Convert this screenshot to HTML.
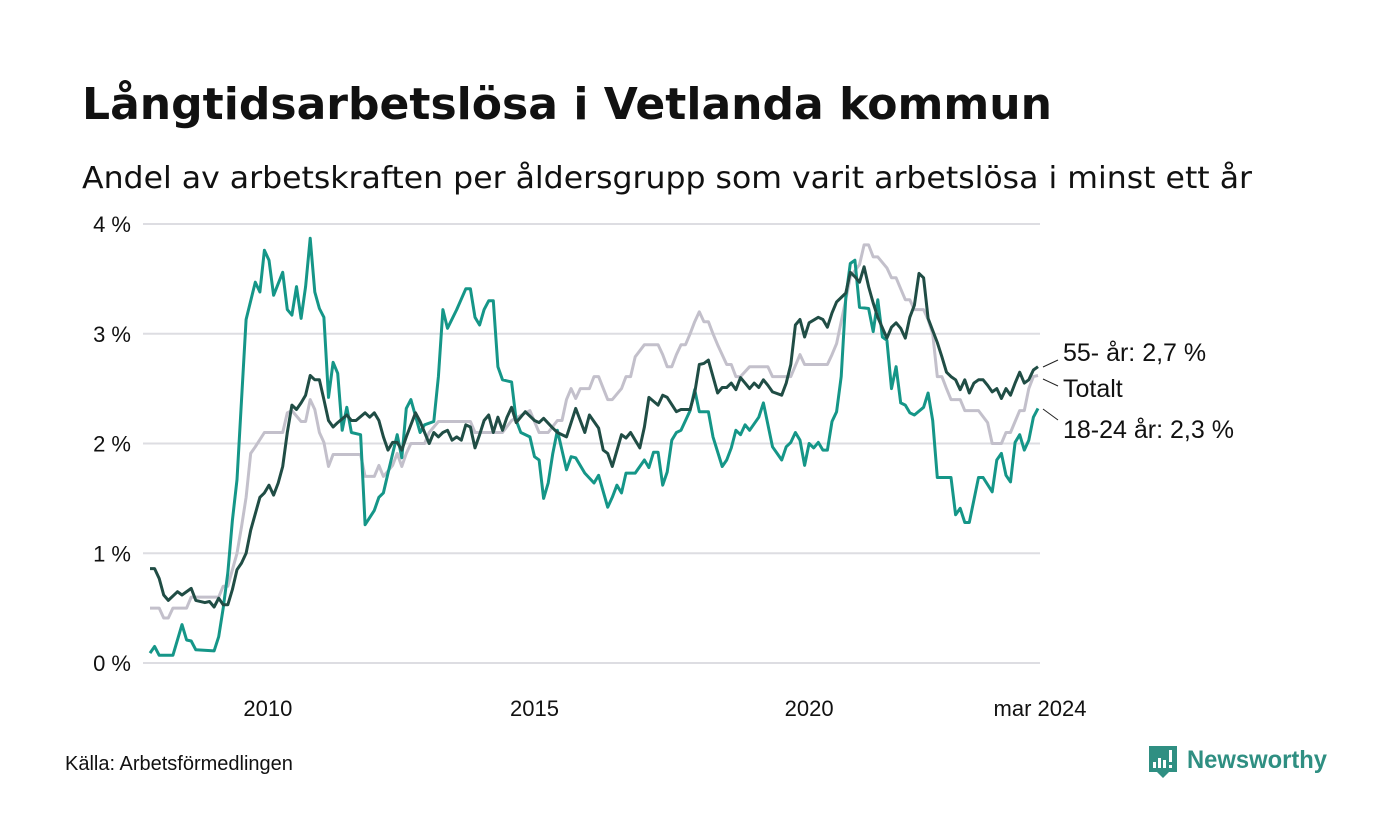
<!DOCTYPE html>
<html><head><meta charset="utf-8">
<style>
html,body{margin:0;padding:0;background:#fff;}
svg{display:block;font-family:"Liberation Sans",sans-serif;}
</style></head>
<body>
<svg id="chart" width="1400" height="840" viewBox="0 0 1400 840" xmlns="http://www.w3.org/2000/svg">
<rect width="1400" height="840" fill="#fff"/>
<text x="82" y="119" font-family="DejaVu Sans, sans-serif" font-size="44" font-weight="bold" fill="#111" textLength="970" lengthAdjust="spacingAndGlyphs">Långtidsarbetslösa i Vetlanda kommun</text>
<text x="82" y="188" font-family="DejaVu Sans, sans-serif" font-size="30" fill="#111" textLength="1170" lengthAdjust="spacingAndGlyphs">Andel av arbetskraften per åldersgrupp som varit arbetslösa i minst ett år</text>
<g id="grid"></g>
<g id="yticks"></g>
<g id="xticks"></g>
<g id="series"></g>
<g font-size="25" fill="#111">
<line x1="1043" y1="367" x2="1058" y2="360" stroke="#222" stroke-width="1"/>
<text x="1063" y="361">55- år: 2,7 %</text>
<line x1="1043" y1="379" x2="1058" y2="386" stroke="#222" stroke-width="1"/>
<text x="1063" y="397">Totalt</text>
<line x1="1043" y1="409" x2="1058" y2="420" stroke="#222" stroke-width="1"/>
<text x="1063" y="438">18-24 år: 2,3 %</text>
</g>
<text x="65" y="770" font-size="20" fill="#111">Källa: Arbetsförmedlingen</text>
<g>
<path d="M1149 746 h28 v26 h-8 l-6 6 l-6 -6 h-8 z" fill="#2f8f82"/>
<rect x="1153" y="762" width="3" height="6" fill="#fff"/>
<rect x="1158" y="758" width="3" height="10" fill="#fff"/>
<rect x="1163" y="760" width="3" height="8" fill="#fff"/>
<rect x="1169" y="750" width="3" height="12" fill="#fff"/>
<rect x="1169" y="765" width="3" height="3" fill="#fff"/>
<text x="1187" y="768" font-size="25" font-weight="bold" fill="#2f8f82" textLength="140" lengthAdjust="spacingAndGlyphs">Newsworthy</text>
</g>
</svg>
<script>
const yTicks=[0,1,2,3,4];
const yTickLabels=["0 %","1 %","2 %","3 %","4 %"];
const xTickMonths=[24,84,144,194];
const xTickLabels=["2010","2015","2020","mar 2024"];
const m18=[0,1,2,5,7,8,9,10,14,15,16,17,18,19,21,23,24,25,26,27,29,30,31,32,33,34,35,36,37,38,39,40,41,42,43,44,46,47,49,50,51,52,54,55,56,57,59,60,62,63,64,65,67,69,70,71,72,73,74,75,76,77,79,80,81,83,84,85,86,87,88,89,91,92,93,95,97,98,100,101,102,103,104,106,108,109,110,111,112,113,114,115,116,118,119,120,122,123,125,126,127,128,129,130,131,133,134,136,137,138,139,140,141,142,143,144,145,146,147,148,149,150,151,152,153,154,155,157,158,159,160,161,162,163,164,165,166,167,169,170,171,172,175,176,177,178,179,181,182,184,185,186,187,188,189,190,191,192,193,194];
const v18=[0.09,0.15,0.07,0.07,0.35,0.21,0.2,0.12,0.11,0.24,0.5,0.82,1.3,1.67,3.13,3.47,3.38,3.76,3.67,3.35,3.56,3.22,3.17,3.43,3.14,3.43,3.87,3.38,3.23,3.15,2.42,2.74,2.64,2.12,2.33,2.1,2.08,1.26,1.39,1.51,1.55,1.73,2.08,1.87,2.32,2.4,2.1,2.17,2.2,2.61,3.22,3.05,3.22,3.41,3.41,3.15,3.08,3.22,3.3,3.3,2.7,2.58,2.56,2.21,2.1,2.06,1.88,1.85,1.5,1.64,1.91,2.12,1.76,1.88,1.87,1.73,1.64,1.71,1.42,1.51,1.62,1.55,1.73,1.73,1.85,1.78,1.92,1.92,1.62,1.74,2.03,2.1,2.12,2.3,2.49,2.29,2.29,2.06,1.79,1.85,1.96,2.12,2.08,2.17,2.12,2.24,2.37,1.97,1.91,1.85,1.97,2.01,2.1,2.03,1.8,2.0,1.96,2.01,1.94,1.94,2.2,2.29,2.61,3.33,3.64,3.67,3.24,3.23,3.02,3.31,2.97,2.94,2.5,2.7,2.37,2.35,2.28,2.26,2.33,2.46,2.21,1.69,1.69,1.35,1.41,1.28,1.28,1.69,1.69,1.56,1.85,1.91,1.71,1.65,2.01,2.08,1.94,2.03,2.24,2.32];
const m55=[0,1,2,3,4,6,7,9,10,12,13,14,15,16,17,18,19,20,21,22,24,25,26,27,28,29,30,31,32,33,34,35,36,37,38,39,40,41,43,44,45,47,48,49,50,51,52,53,54,55,56,58,59,60,61,62,63,64,65,66,67,68,69,70,71,72,73,74,75,76,77,78,79,80,82,84,85,86,88,89,91,93,94,95,96,98,99,100,101,103,104,105,107,108,109,111,112,113,115,116,118,119,120,121,122,124,125,126,127,128,129,130,131,132,133,134,135,136,138,139,140,141,142,143,144,146,147,148,149,150,151,152,153,154,155,156,157,158,159,161,162,163,164,165,166,167,168,169,170,171,172,173,174,175,176,177,178,179,180,181,182,183,184,185,186,187,188,189,190,191,192,193,194];
const v55=[0.86,0.86,0.77,0.62,0.57,0.65,0.62,0.68,0.57,0.55,0.56,0.51,0.59,0.53,0.53,0.67,0.85,0.91,1.0,1.21,1.51,1.55,1.62,1.53,1.64,1.79,2.1,2.35,2.31,2.37,2.44,2.62,2.58,2.58,2.4,2.21,2.15,2.19,2.26,2.21,2.21,2.28,2.24,2.28,2.21,2.06,1.94,2.01,2.01,1.94,2.06,2.28,2.2,2.1,2.0,2.1,2.06,2.1,2.12,2.03,2.06,2.03,2.17,2.15,1.96,2.08,2.21,2.26,2.1,2.24,2.12,2.24,2.33,2.19,2.29,2.21,2.19,2.23,2.14,2.1,2.06,2.32,2.21,2.1,2.26,2.14,1.94,1.91,1.79,2.08,2.05,2.1,1.96,2.15,2.42,2.35,2.44,2.42,2.29,2.31,2.31,2.46,2.72,2.73,2.76,2.46,2.51,2.51,2.55,2.49,2.6,2.55,2.5,2.55,2.51,2.58,2.53,2.47,2.44,2.55,2.72,3.08,3.13,2.97,3.1,3.15,3.13,3.06,3.19,3.29,3.33,3.37,3.56,3.52,3.47,3.61,3.43,3.28,3.15,2.96,3.06,3.1,3.05,2.96,3.15,3.26,3.55,3.51,3.14,3.03,2.92,2.79,2.65,2.61,2.58,2.49,2.58,2.46,2.55,2.58,2.58,2.53,2.47,2.5,2.41,2.5,2.44,2.55,2.65,2.55,2.58,2.67,2.7];
const mTot=[0,2,3,4,5,8,9,15,16,17,19,20,21,22,23,25,29,30,31,33,34,35,36,37,38,39,40,46,47,49,50,51,53,54,55,56,57,60,61,63,70,71,77,79,83,85,87,89,90,91,92,93,94,96,97,98,100,101,103,104,105,106,108,111,112,113,114,115,116,117,118,119,120,121,122,123,124,126,127,128,129,131,135,136,140,142,143,148,149,150,151,152,153,155,156,157,158,159,161,162,163,164,165,166,167,169,170,171,172,173,174,175,177,178,181,183,184,186,187,188,189,190,191,192,193,194];
const vTot=[0.5,0.5,0.41,0.41,0.5,0.5,0.6,0.6,0.7,0.7,1.0,1.24,1.51,1.91,1.97,2.1,2.1,2.28,2.3,2.2,2.2,2.4,2.31,2.1,2.01,1.79,1.9,1.9,1.7,1.7,1.8,1.7,1.8,1.91,1.79,1.91,2.0,2.0,2.1,2.2,2.2,2.1,2.1,2.21,2.3,2.1,2.1,2.21,2.21,2.4,2.5,2.41,2.5,2.5,2.61,2.61,2.4,2.4,2.5,2.61,2.61,2.79,2.9,2.9,2.81,2.7,2.7,2.81,2.9,2.9,3.0,3.11,3.2,3.11,3.11,3.0,2.9,2.72,2.72,2.61,2.61,2.7,2.7,2.61,2.61,2.81,2.72,2.72,2.81,2.91,3.11,3.31,3.52,3.63,3.81,3.81,3.7,3.7,3.6,3.51,3.51,3.41,3.31,3.31,3.22,3.22,3.13,3.0,2.61,2.61,2.5,2.4,2.4,2.3,2.3,2.19,2.0,2.0,2.1,2.1,2.2,2.3,2.3,2.5,2.61,2.62];

const NS="http://www.w3.org/2000/svg";
const X0=150,X1=1038,M1=194,Y0=663,Y4=224;
function xs(m){return X0+(X1-X0)*m/M1;}
function ys(v){return Y0-(Y0-Y4)*v/4;}
function mk(tag,attrs,parent){const e=document.createElementNS(NS,tag);for(const k in attrs)e.setAttribute(k,attrs[k]);parent.appendChild(e);return e;}
const grid=document.getElementById('grid'),yt=document.getElementById('yticks'),xt=document.getElementById('xticks'),ser=document.getElementById('series');
yTicks.forEach((t,i)=>{
  const l=mk('line',{x1:143,x2:1040,y1:ys(t),y2:ys(t),stroke:'#dddde2','stroke-width':2},grid);
  
  
  const tx=mk('text',{x:131,y:ys(t)+8,'text-anchor':'end','font-size':22,fill:'#111'},yt);
  tx.textContent=yTickLabels[i];
  
  
});
xTickMonths.forEach((m,i)=>{
  const tx=mk('text',{x:xs(m)+(i===0?8:(i===3?2:0)),y:716,'text-anchor':'middle','font-size':22,fill:'#111'},xt);
  tx.textContent=xTickLabels[i];
  
  
});
function line(ms,vs,color,name){
  const d=ms.map((m,i)=>(i?'L':'M')+xs(m).toFixed(1)+' '+ys(vs[i]).toFixed(1)).join(' ');
  const p=mk('path',{d:d,fill:'none',stroke:color,'stroke-width':3,'stroke-linejoin':'round'},ser);
  
  
}
line(mTot,vTot,'#c3c0cb','line-totalt');
line(m18,v18,'#159688','line-18-24');
line(m55,v55,'#204d45','line-55-plus');
</script>
</body></html>
